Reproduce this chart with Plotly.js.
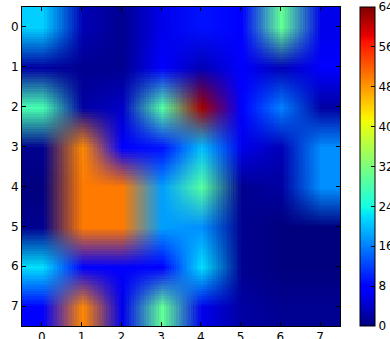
<!DOCTYPE html>
<html>
<head>
<meta charset="utf-8">
<script src="https://cdn.plot.ly/plotly-3.0.1.min.js"></script>
<style>html,body{margin:0;padding:0;background:#fff;overflow:hidden;}#chart{width:390px;height:339px;overflow:hidden;}</style>
</head>
<body>
<div id="chart"></div>
<script>
var columns = [0, 1, 2, 3, 4, 5, 6, 7];
var rows = [0, 1, 2, 3, 4, 5, 6, 7];
var row0 = [21, 3, 1, 6, 9, 8, 30, 6];
var row1 = [2, 1, 1, 8, 3, 8, 3, 8];
var row2 = [28, 2, 4, 29, 62, 8, 16, 2];
var row3 = [1, 49, 8, 9, 20, 6, 3, 17];
var row4 = [0, 50, 50, 18, 29, 1, 2, 17];
var row5 = [1, 50, 50, 18, 17, 1, 0, 0];
var row6 = [22, 8, 7, 8, 22, 1, 0, 0];
var row7 = [7, 49, 6, 30, 6, 2, 1, 1];
var colorTicks = [0, 8, 16, 24, 32, 40, 48, 56, 64];

var jet = [
  [0, 'rgb(0,0,127)'], [0.11, 'rgb(0,0,255)'], [0.125, 'rgb(0,0,255)'],
  [0.34, 'rgb(0,219,255)'], [0.35, 'rgb(0,229,247)'], [0.375, 'rgb(21,255,226)'],
  [0.64, 'rgb(239,255,8)'], [0.65, 'rgb(247,245,0)'], [0.66, 'rgb(255,236,0)'],
  [0.89, 'rgb(255,19,0)'], [0.91, 'rgb(232,0,0)'], [1, 'rgb(127,0,0)']
];

var font = {family: 'DejaVu Sans', size: 12, color: '#000'};

var trace = {
  type: 'heatmap',
  x: columns, y: rows,
  z: [row0, row1, row2, row3, row4, row5, row6, row7],
  zmin: 0, zmax: 64,
  zsmooth: 'fast',
  colorscale: jet,
  hoverinfo: 'skip',
  colorbar: {
    thickness: 15, thicknessmode: 'pixels',
    len: 1, lenmode: 'fraction',
    x: (360 - 22) / 318, xanchor: 'left', xpad: 0,
    y: 0.5, yanchor: 'middle', ypad: 0,
    outlinewidth: 1, outlinecolor: '#000',
    tickvals: colorTicks, ticktext: colorTicks.map(String),
    ticks: 'inside', ticklen: 4, tickcolor: '#000',
    tickfont: font
  }
};

var layout = {
  width: 410, height: 339,
  margin: {l: 22, r: 70, t: 7, b: 13},
  paper_bgcolor: '#fff', plot_bgcolor: '#fff',
  font: font,
  xaxis: {
    range: [-0.5, 7.5], tickvals: columns, ticktext: columns.map(String),
    ticks: 'inside', ticklen: 4, tickcolor: '#000',
    showline: true, linecolor: '#000', linewidth: 1, mirror: 'ticks',
    showgrid: false, zeroline: false, tickfont: font
  },
  yaxis: {
    range: [7.5, -0.5], tickvals: rows, ticktext: rows.map(String),
    ticks: 'inside', ticklen: 4, tickcolor: '#000',
    showline: true, linecolor: '#000', linewidth: 1, mirror: 'ticks',
    showgrid: false, zeroline: false, tickfont: font
  }
};

Plotly.newPlot('chart', [trace], layout, {displayModeBar: false, staticPlot: true});
</script>
</body>
</html>
